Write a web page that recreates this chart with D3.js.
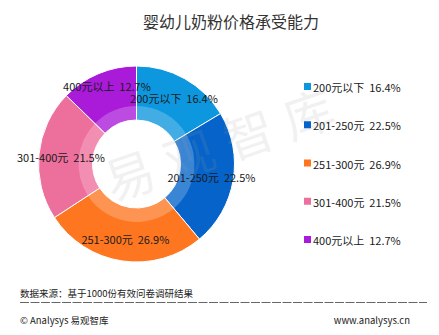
<!DOCTYPE html>
<html>
<head>
<meta charset="utf-8">
<script src="https://cdn.jsdelivr.net/npm/d3@7"></script>
<style>
  html, body { margin: 0; padding: 0; background: #fff; }
  svg { display: block; }
  text { white-space: pre; }
</style>
</head>
<body>
<svg id="chart" width="439" height="335"></svg>
<script>
// Price bands and share of respondents (%)
const categories = ["200元以下", "201-250元", "251-300元", "301-400元", "400元以上"];
const shares = [16.4, 22.5, 26.9, 21.5, 12.7];
const colors = ["#0d97de", "#0563c9", "#fe7720", "#ed6f9c", "#a91ad9"];

const titleText = "婴幼儿奶粉价格承受能力";
const sourceText = "数据来源：基于1000份有效问卷调研结果";
const copyrightText = "© Analysys 易观智库";
const siteText = "www.analysys.cn";
const watermarkChars = ["易", "观", "智", "库"];

const fontCJK = "'Noto Sans CJK SC', 'Microsoft YaHei', sans-serif";

const svg = d3.select("#chart");

// Title
svg.append("text")
  .attr("x", 231)
  .attr("y", 28)
  .attr("text-anchor", "middle")
  .attr("font-family", fontCJK)
  .attr("font-size", 16)
  .attr("fill", "#333")
  .text(titleText);

// Donut
const cx = 136.5, cy = 164;
const outerR = 98, ringR = 58, holeR = 44, labelR = 76;

const pie = d3.pie().sort(null).value(d => d.value);
const data = categories.map((c, i) => ({ name: c, value: shares[i], color: colors[i] }));
const arcs = pie(data);

const arcOuter = d3.arc().innerRadius(holeR).outerRadius(outerR);
const arcRing = d3.arc().innerRadius(holeR).outerRadius(ringR);
const arcLabel = d3.arc().innerRadius(labelR).outerRadius(labelR);

const g = svg.append("g").attr("transform", `translate(${cx},${cy})`);

g.selectAll("path.slice")
  .data(arcs)
  .enter().append("path")
  .attr("class", "slice")
  .attr("d", arcOuter)
  .attr("fill", d => d.data.color)
  .attr("stroke", "#fff")
  .attr("stroke-width", 1);

// Translucent inner band
g.selectAll("path.ring")
  .data(arcs)
  .enter().append("path")
  .attr("class", "ring")
  .attr("d", arcRing)
  .attr("fill", "#fff")
  .attr("fill-opacity", 0.22);

// Faint watermark laid over the plot
const wm = svg.append("g")
  .attr("transform", "translate(218,142) rotate(-19)");
wm.selectAll("text")
  .data(watermarkChars)
  .enter().append("text")
  .attr("x", (d, i) => (i - 1.5) * 63)
  .attr("y", 0)
  .attr("text-anchor", "middle")
  .attr("dominant-baseline", "central")
  .attr("font-family", fontCJK)
  .attr("font-size", 50)
  .attr("fill", "#9a9a9a")
  .attr("fill-opacity", 0.14)
  .text(d => d);

// Data labels, placed on the slice centroids
const labels = g.selectAll("text.lbl")
  .data(arcs)
  .enter().append("text")
  .attr("class", "lbl")
  .attr("text-anchor", "middle")
  .attr("dominant-baseline", "central")
  .attr("font-family", fontCJK)
  .attr("font-size", 11)
  .attr("fill", "#1a1a1a")
  .text(d => `${d.data.name}  ${d.data.value.toFixed(1)}%`);

const pos = arcs.map(d => arcLabel.centroid(d));
const widths = labels.nodes().map(n => n.getComputedTextLength());
const lineH = 12;

// Nudge colliding labels apart: the higher one moves up
for (let pass = 0; pass < 5; pass++) {
  for (let i = 0; i < pos.length; i++) {
    for (let j = i + 1; j < pos.length; j++) {
      const dx = Math.abs(pos[i][0] - pos[j][0]);
      const dy = Math.abs(pos[i][1] - pos[j][1]);
      if (dx < (widths[i] + widths[j]) / 2 && dy < lineH) {
        const upper = pos[i][1] <= pos[j][1] ? i : j;
        const lower = upper === i ? j : i;
        pos[upper][1] = pos[lower][1] - lineH;
      }
    }
  }
}

labels.attr("transform", (d, i) => `translate(${pos[i]})`);

// Legend
const legendY = d3.scalePoint()
  .domain(categories)
  .range([87, 240]);

const legend = svg.append("g");
const items = legend.selectAll("g")
  .data(data)
  .enter().append("g")
  .attr("transform", d => `translate(304,${legendY(d.name)})`);

items.append("rect")
  .attr("x", 0)
  .attr("y", -4)
  .attr("width", 7)
  .attr("height", 7)
  .attr("fill", d => d.color);

items.append("text")
  .attr("x", 9)
  .attr("y", 0)
  .attr("dominant-baseline", "central")
  .attr("font-family", fontCJK)
  .attr("font-size", 11)
  .attr("fill", "#1a1a1a")
  .text(d => `${d.name}  ${d.value.toFixed(1)}%`);

// Footer
svg.append("text")
  .attr("x", 20)
  .attr("y", 297)
  .attr("font-family", fontCJK)
  .attr("font-size", 9.5)
  .attr("fill", "#222")
  .text(sourceText);

svg.append("line")
  .attr("x1", 20).attr("x2", 427)
  .attr("y1", 302.5).attr("y2", 302.5)
  .attr("stroke", "#666")
  .attr("stroke-width", 1)
  .attr("stroke-dasharray", "9,1.5");

svg.append("text")
  .attr("x", 20)
  .attr("y", 324)
  .attr("font-family", fontCJK)
  .attr("font-size", 9.5)
  .attr("fill", "#222")
  .text(copyrightText);

svg.append("text")
  .attr("x", 410)
  .attr("y", 324)
  .attr("text-anchor", "end")
  .attr("font-family", fontCJK)
  .attr("font-size", 9.5)
  .attr("fill", "#222")
  .text(siteText);
</script>
</body>
</html>
